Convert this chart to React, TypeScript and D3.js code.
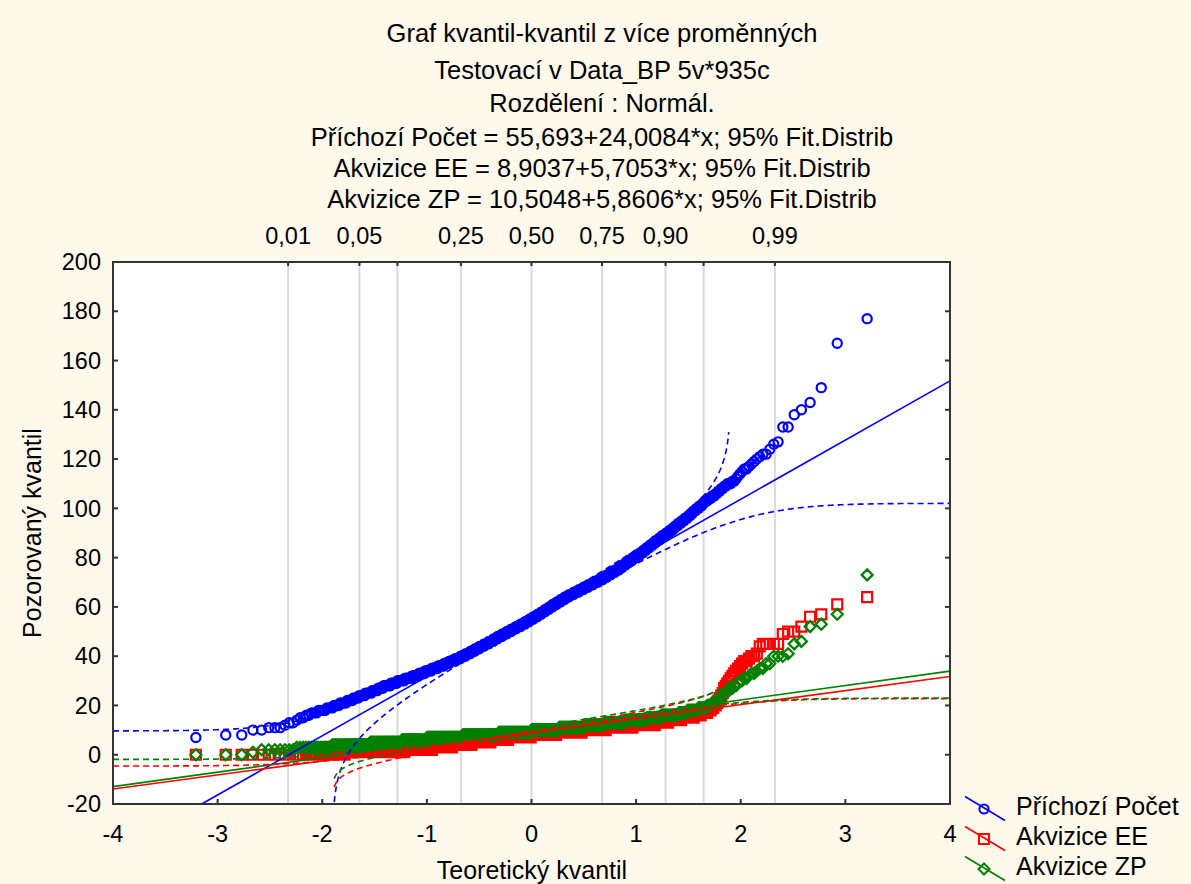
import React, { useEffect } from 'react';
import * as d3 from 'd3';

const WIDTH = 1191;
const HEIGHT = 884;

// Title block
const titleLines = [
  'Graf kvantil-kvantil z více proměnných',
  'Testovací v Data_BP 5v*935c',
  'Rozdělení : Normál.',
  'Příchozí Počet = 55,693+24,0084*x; 95% Fit.Distrib',
  'Akvizice EE = 8,9037+5,7053*x; 95% Fit.Distrib',
  'Akvizice ZP = 10,5048+5,8606*x; 95% Fit.Distrib',
];

// Observed values as [value, count] runs (935 observations each)
const prichoziPocet: [number, number][] = [
  [7, 1], [8, 2], [10, 2], [11, 3], [12, 1], [13, 2], [14, 1], [15, 2], [16, 2], [17, 3],
  [18, 4], [19, 4], [20, 4], [21, 5], [22, 5], [23, 5], [24, 6], [25, 7], [26, 7], [27, 7],
  [28, 10], [29, 10], [30, 12], [31, 13], [32, 13], [33, 13], [34, 14], [35, 15], [36, 15], [37, 14],
  [38, 15], [39, 15], [40, 15], [41, 14], [42, 14], [43, 14], [44, 15], [45, 15], [46, 15], [47, 14],
  [48, 16], [49, 16], [50, 16], [51, 16], [52, 16], [53, 16], [54, 15], [55, 15], [56, 15], [57, 14],
  [58, 13], [59, 13], [60, 13], [61, 14], [62, 14], [63, 14], [64, 14], [65, 16], [66, 16], [67, 15],
  [68, 15], [69, 15], [70, 15], [71, 13], [72, 11], [73, 11], [74, 11], [75, 11], [76, 8], [77, 8],
  [78, 8], [79, 8], [80, 8], [81, 8], [82, 7], [83, 6], [84, 6], [85, 6], [86, 5], [87, 6],
  [88, 5], [89, 6], [90, 5], [91, 5], [92, 4], [93, 4], [94, 4], [95, 4], [96, 4], [97, 3],
  [98, 3], [99, 3], [100, 3], [101, 3], [102, 2], [103, 3], [104, 3], [105, 3], [106, 2], [107, 2],
  [108, 2], [109, 2], [110, 3], [111, 2], [112, 1], [113, 1], [114, 1], [115, 1], [116, 2], [117, 1],
  [118, 1], [119, 1], [120, 1], [121, 1], [122, 2], [124, 1], [126, 1], [127, 1], [133, 2], [138, 1],
  [140, 1], [143, 1], [149, 1], [167, 1], [177, 1],
];

const akviziceEE: [number, number][] = [
  [0, 35], [1, 70], [2, 55], [3, 50], [4, 55], [5, 60], [6, 60], [7, 80], [8, 90], [9, 85],
  [10, 72], [11, 67], [12, 45], [13, 22], [14, 18], [15, 15], [16, 7], [17, 6], [18, 3], [19, 2],
  [20, 2], [21, 1], [22, 1], [23, 1], [24, 1], [25, 1], [27, 1], [28, 1], [29, 1], [30, 1],
  [31, 1], [32, 1], [33, 1], [34, 1], [35, 1], [36, 1], [37, 1], [38, 2], [39, 1], [40, 2],
  [41, 1], [44, 1], [45, 5], [49, 1], [50, 2], [52, 1], [56, 1], [57, 1], [61, 1], [64, 1],
];

const akviziceZP: [number, number][] = [
  [0, 3], [1, 1], [2, 7], [3, 15], [4, 31], [5, 43], [6, 48], [7, 90], [8, 114], [9, 115],
  [10, 97], [11, 83], [12, 60], [13, 54], [14, 47], [15, 26], [16, 26], [17, 11], [18, 12], [19, 8],
  [20, 4], [21, 4], [22, 1], [23, 2], [24, 2], [25, 2], [26, 2], [27, 2], [28, 2], [29, 1],
  [30, 2], [31, 2], [32, 1], [33, 2], [34, 1], [35, 2], [37, 2], [40, 3], [41, 1], [45, 1],
  [46, 1], [52, 1], [53, 1], [57, 1], [73, 1],
];

const seriesNames = ['Příchozí Počet', 'Akvizice EE', 'Akvizice ZP'];
const seriesData = [prichoziPocet, akviziceEE, akviziceZP];
const seriesColors = ['#0000ff', '#ff0000', '#008000'];
const seriesMarkers = ['circle', 'square', 'diamond'];

// Fitted lines y = a + b*x
const fitIntercepts = [55.693, 8.9037, 10.5048];
const fitSlopes = [24.0084, 5.7053, 5.8606];

// Fitted-distribution band parameters
const bandCenters = [55.85, 9.1, 10.55];
const bandScales = [24.3, 7.2, 6.55];
const bandTailProb = 0.0287;
const bandProbFloor = 0.001;

// Axes
const X_MIN = -4;
const X_MAX = 4;
const Y_MIN = -20;
const Y_MAX = 200;
const xTicks = [-4, -3, -2, -1, 0, 1, 2, 3, 4];
const yTicks = [-20, 0, 20, 40, 60, 80, 100, 120, 140, 160, 180, 200];
const probGrid = [0.01, 0.05, 0.1, 0.25, 0.5, 0.75, 0.9, 0.95, 0.99];
const probLabels = [0.01, 0.05, 0.25, 0.5, 0.75, 0.9, 0.99];

function normCdf(z: number): number {
  const t = 1 / (1 + 0.2316419 * Math.abs(z));
  const dens = 0.3989422804014327 * Math.exp((-z * z) / 2);
  const p =
    dens * t * (0.31938153 + t * (-0.356563782 + t * (1.781477937 + t * (-1.821255978 + t * 1.330274429))));
  return z > 0 ? 1 - p : p;
}

function normInv(p: number): number {
  const a = [-39.69683028665376, 220.9460984245205, -275.9285104469687, 138.357751867269, -30.66479806614716, 2.506628277459239];
  const b = [-54.47609879822406, 161.5858368580409, -155.6989798598866, 66.80131188771972, -13.28068155288572];
  const c = [-0.007784894002430293, -0.3223964580411365, -2.400758277161838, -2.549732539343734, 4.374664141464968, 2.938163982698783];
  const d = [0.007784695709041462, 0.3224671290700398, 2.445134137142996, 3.754408661907416];
  const pl = 0.02425;
  if (p < pl) {
    const q = Math.sqrt(-2 * Math.log(p));
    return (((((c[0] * q + c[1]) * q + c[2]) * q + c[3]) * q + c[4]) * q + c[5]) / ((((d[0] * q + d[1]) * q + d[2]) * q + d[3]) * q + 1);
  }
  if (p <= 1 - pl) {
    const q = p - 0.5;
    const r = q * q;
    return ((((((a[0] * r + a[1]) * r + a[2]) * r + a[3]) * r + a[4]) * r + a[5]) * q) /
      (((((b[0] * r + b[1]) * r + b[2]) * r + b[3]) * r + b[4]) * r + 1);
  }
  const q = Math.sqrt(-2 * Math.log(1 - p));
  return -(((((c[0] * q + c[1]) * q + c[2]) * q + c[3]) * q + c[4]) * q + c[5]) / ((((d[0] * q + d[1]) * q + d[2]) * q + d[3]) * q + 1);
}

// Blom plotting positions for the sorted sample
function qqPoints(runs: [number, number][]) {
  const values: number[] = [];
  runs.forEach(([v, c]) => {
    for (let k = 0; k < c; k++) values.push(v);
  });
  values.sort((u, v) => u - v);
  const n = values.length;
  return values.map((v, i) => ({ z: normInv((i + 1 - 0.375) / (n + 0.25)), v }));
}

const M = { left: 113, right: 950, top: 262, bottom: 804 };
const FONT = '"Liberation Sans", Arial, sans-serif';

function markerPath(kind: string, x: number, y: number): string {
  if (kind === 'square') return `M${x - 5},${y - 5}h10v10h-10Z`;
  if (kind === 'diamond') return `M${x},${y - 5.5}L${x + 5.5},${y}L${x},${y + 5.5}L${x - 5.5},${y}Z`;
  return `M${x - 4.6},${y}a4.6,4.6 0 1,0 9.2,0a4.6,4.6 0 1,0 -9.2,0`;
}

// Straight fit line trimmed to the plotting window
function fitSegment(a: number, b: number): [number, number][] {
  let z0 = X_MIN;
  let z1 = X_MAX;
  if (b > 0) {
    z0 = Math.max(z0, (Y_MIN - a) / b);
    z1 = Math.min(z1, (Y_MAX - a) / b);
  }
  return [
    [z0, a + b * z0],
    [z1, a + b * z1],
  ];
}

export default function App() {
  useEffect(() => {
    document.body.style.margin = '0';
  }, []);

  const x = d3.scaleLinear().domain([X_MIN, X_MAX]).range([M.left, M.right]);
  const y = d3.scaleLinear().domain([Y_MIN, Y_MAX]).range([M.bottom, M.top]);
  const line = d3
    .line<[number, number]>()
    .defined((d) => d[1] >= Y_MIN && d[1] <= Y_MAX)
    .x((d) => x(d[0]))
    .y((d) => y(d[1]));

  const points = seriesData.map(qqPoints);

  const zHi = normInv(1 - bandTailProb - bandProbFloor);
  const zLo = normInv(bandTailProb + bandProbFloor);
  const grid = d3.range(X_MIN, X_MAX + 0.0001, 0.01);
  const upperZ = [...grid.filter((z) => z < zHi), zHi];
  const lowerZ = [zLo, ...grid.filter((z) => z > zLo)];

  const upperBand = (si: number) =>
    upperZ.map((z) => [z, bandCenters[si] + bandScales[si] * normInv(normCdf(z) + bandTailProb)] as [number, number]);
  const lowerBand = (si: number) =>
    lowerZ.map((z) => [z, bandCenters[si] + bandScales[si] * normInv(normCdf(z) - bandTailProb)] as [number, number]);

  const fmtProb = (p: number) => d3.format('.2f')(p).replace('.', ',');

  return (
    <svg width={WIDTH} height={HEIGHT} style={{ display: 'block', fontFamily: FONT }}>
      <rect width={WIDTH} height={HEIGHT} fill="#fff9ec" />
      <rect x={M.left} y={M.top} width={M.right - M.left} height={M.bottom - M.top} fill="#ffffff" />

      {/* probability grid */}
      {probGrid.map((p) => (
        <line key={`g${p}`} x1={x(normInv(p))} x2={x(normInv(p))} y1={M.top} y2={M.bottom} stroke="#dadada" strokeWidth={2} />
      ))}

      {/* observations */}
      {points.map((pts, si) => (
        <path
          key={`m${si}`}
          d={pts.map((p) => markerPath(seriesMarkers[si], x(p.z), y(p.v))).join('')}
          fill="none"
          stroke={seriesColors[si]}
          strokeWidth={2.2}
        />
      ))}

      {/* fitted lines */}
      {seriesColors.map((col, si) => (
        <path
          key={`f${si}`}
          d={line(fitSegment(fitIntercepts[si], fitSlopes[si])) || ''}
          fill="none"
          stroke={col}
          strokeWidth={1.6}
        />
      ))}

      {/* fitted-distribution bands */}
      {seriesColors.map((col, si) => (
        <path
          key={`u${si}`}
          d={line(upperBand(si)) || ''}
          fill="none"
          stroke={col}
          strokeWidth={1.6}
          strokeDasharray="6,4"
        />
      ))}
      {seriesColors.map((col, si) => (
        <path
          key={`d${si}`}
          d={line(lowerBand(si)) || ''}
          fill="none"
          stroke={col}
          strokeWidth={1.6}
          strokeDasharray="6,4"
        />
      ))}

      {/* frame and ticks */}
      <rect x={M.left} y={M.top} width={M.right - M.left} height={M.bottom - M.top} fill="none" stroke="#333" strokeWidth={2} />
      {yTicks.map((t) => (
        <g key={`y${t}`}>
          <line x1={M.left} x2={M.left + 5} y1={y(t)} y2={y(t)} stroke="#333" strokeWidth={2} />
          <line x1={M.right - 5} x2={M.right} y1={y(t)} y2={y(t)} stroke="#333" strokeWidth={2} />
          <text x={101} y={y(t)} dy="0.35em" textAnchor="end" fontSize={23.5}>
            {t}
          </text>
        </g>
      ))}
      {xTicks.map((t) => (
        <g key={`x${t}`}>
          <line x1={x(t)} x2={x(t)} y1={M.bottom - 5} y2={M.bottom} stroke="#333" strokeWidth={2} />
          <text x={x(t)} y={842} textAnchor="middle" fontSize={23.5}>
            {t}
          </text>
        </g>
      ))}
      {probGrid.map((p) => (
        <line key={`p${p}`} x1={x(normInv(p))} x2={x(normInv(p))} y1={M.top} y2={M.top + 4} stroke="#333" strokeWidth={2} />
      ))}
      {probLabels.map((p) => (
        <text key={`pl${p}`} x={x(normInv(p))} y={243.5} textAnchor="middle" fontSize={23.5}>
          {fmtProb(p)}
        </text>
      ))}

      {/* titles */}
      {titleLines.map((t, i) => (
        <text key={`t${i}`} x={602} y={[42, 78.5, 112, 146, 177, 208][i]} textAnchor="middle" fontSize={25.5}>
          {t}
        </text>
      ))}

      <text x={532} y={879} textAnchor="middle" fontSize={25}>
        Teoretický kvantil
      </text>
      <text transform="translate(41,533) rotate(-90)" textAnchor="middle" fontSize={25}>
        Pozorovaný kvantil
      </text>

      {/* legend */}
      {seriesNames.map((name, i) => {
        const yc = 809 + i * 30;
        return (
          <g key={name}>
            <line x1={965} y1={yc - 12.5} x2={1005} y2={yc + 11.5} stroke={seriesColors[i]} strokeWidth={1.6} />
            <path d={markerPath(seriesMarkers[i], 984, yc)} fill="none" stroke={seriesColors[i]} strokeWidth={2} />
            <text x={1016} y={yc + 6} fontSize={25}>
              {name}
            </text>
          </g>
        );
      })}
    </svg>
  );
}
